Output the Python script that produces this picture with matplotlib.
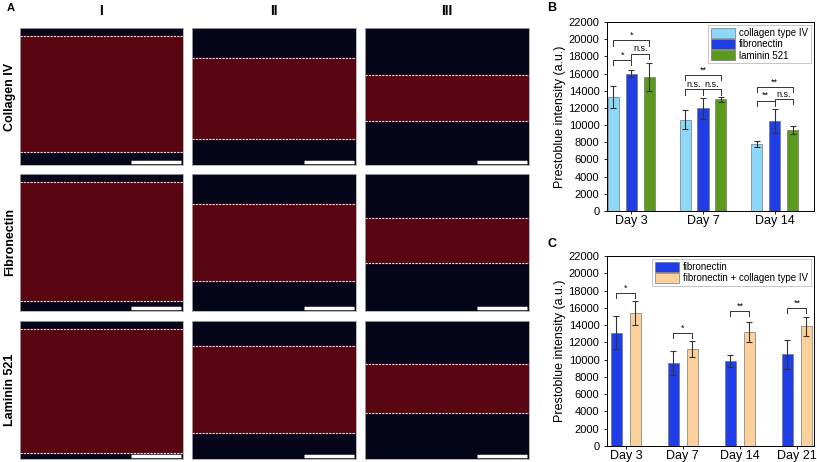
import numpy as np
import matplotlib.pyplot as plt
from matplotlib.patches import Rectangle

plt.rcParams['font.family'] = ['Liberation Sans', 'DejaVu Sans']

# panel B
days_b = ['Day 3', 'Day 7', 'Day 14']
collagen = [13300, 10600, 7800]
collagen_err = [1300, 1100, 350]
fibro_b = [16000, 11950, 10450]
fibro_b_err = [400, 1200, 1400]
laminin = [15600, 13000, 9450]
laminin_err = [1600, 300, 500]

# panel C
days_c = ['Day 3', 'Day 7', 'Day 14', 'Day 21']
fibro_c = [13100, 9600, 9850, 10600]
fibro_c_err = [1900, 1400, 700, 1700]
fibro_col = [15400, 11250, 13250, 13850]
fibro_col_err = [1400, 900, 1150, 1100]

# significance brackets: (group, bar a, bar b, height, text)
sig_b = [(0, 0, 1, 17600, '*'), (0, 1, 2, 18300, 'n.s.'), (0, 0, 2, 19850, '*'),
         (1, 0, 1, 14150, 'n.s.'), (1, 1, 2, 14150, 'n.s.'), (1, 0, 2, 15850, '**'),
         (2, 0, 1, 12850, '**'), (2, 1, 2, 13000, 'n.s.'), (2, 0, 2, 14400, '**')]
sig_c = [(0, 0, 1, 17700, '*'), (1, 0, 1, 13100, '*'),
         (2, 0, 1, 15600, '**'), (3, 0, 1, 15950, '**')]

rows = ['Collagen IV', 'Fibronectin', 'Laminin 521']
cols = ['I', 'II', 'III']
# dashed channel borders, fraction of panel height from top
channels = [[(0.056, 0.903), (0.22, 0.81), (0.34, 0.68)],
            [(0.06, 0.93), (0.22, 0.78), (0.32, 0.65)],
            [(0.06, 0.96), (0.18, 0.81), (0.31, 0.665)]]

W, H = 817, 462
fig = plt.figure(figsize=(W / 100, H / 100), dpi=100)

def px_axes(x0, y0, x1, y1):
    return fig.add_axes([x0 / W, 1 - y1 / H, (x1 - x0) / W, (y1 - y0) / H])

col_x = [(20, 183), (192, 356), (365, 529)]
row_y = [(28, 165), (174, 311), (321, 459)]
for i, (ya, yb) in enumerate(row_y):
    for j, (xa, xb) in enumerate(col_x):
        ax = px_axes(xa, ya, xb, yb)
        ax.set_facecolor('#05061a')
        ax.set_xlim(0, 1)
        ax.set_ylim(1, 0)
        top, bot = channels[i][j]
        ax.add_patch(Rectangle((0, top), 1, bot - top, color='#5a0612'))
        for yy in (top, bot):
            ax.axhline(yy, color='#dddddd', ls=(0, (2, 1)), lw=0.8)
        ax.plot([0.68, 0.985], [0.975, 0.975], color='white', lw=2.5, solid_capstyle='butt')
        ax.set_xticks([])
        ax.set_yticks([])
        for s in ax.spines.values():
            s.set_color('#aaaaaa')
            s.set_linewidth(0.6)
        if i == 0:
            ax.text(0.5, 1.07, cols[j], transform=ax.transAxes, ha='center', va='bottom',
                    fontsize=10, fontweight='bold')
        if j == 0:
            fig.text(10 / W, 1 - (ya + yb) / 2 / H, rows[i], ha='center', va='center',
                     rotation=90, fontsize=9, fontweight='bold')

fig.text(7 / W, 1 - 8 / H, 'A', fontsize=8, fontweight='bold', va='center')
fig.text(547 / W, 1 - 8 / H, 'B', fontsize=9, fontweight='bold', va='center')
fig.text(547 / W, 1 - 244 / H, 'C', fontsize=9, fontweight='bold', va='center')


def bar_panel(ax, labels, series, errs, colors, names, offsets, width, sigs, xlim):
    x = np.arange(len(labels))
    for vals, err, c, name, off in zip(series, errs, colors, names, offsets):
        ax.bar(x + off, vals, width, yerr=err, color=c, edgecolor='#777777', lw=0.5,
               label=name, error_kw=dict(ecolor='#333333', lw=0.8, capsize=2, capthick=0.8))
    for g, a, b, h, t in sigs:
        xa, xb = g + offsets[a], g + offsets[b]
        ax.plot([xa, xa, xb, xb], [h - 600, h, h, h - 600], color='#333333', lw=0.7)
        ax.text((xa + xb) / 2, h + 50, t, ha='center', va='bottom', fontsize=6.5)
    ax.set_xticks(x)
    ax.set_xticklabels(labels, fontsize=9)
    ax.set_ylim(0, 22000)
    ax.set_yticks(np.arange(0, 22001, 2000))
    ax.tick_params(axis='y', labelsize=8, length=2, width=0.6)
    ax.tick_params(axis='x', length=2, width=0.6, pad=1)
    ax.set_xlim(*xlim)
    ax.set_ylabel('Prestoblue intensity (a.u.)', fontsize=9, labelpad=2)
    for s in ax.spines.values():
        s.set_linewidth(0.7)
    leg = ax.legend(loc='upper right', fontsize=7, frameon=True, fancybox=False,
                    handlelength=2.5, handleheight=1.2, borderpad=0.3, labelspacing=0.1,
                    handletextpad=0.4, borderaxespad=0.3)
    leg.get_frame().set_edgecolor('#aaaaaa')
    leg.get_frame().set_linewidth(0.6)


axb = px_axes(607, 22, 814, 211)
bar_panel(axb, days_b, [collagen, fibro_b, laminin], [collagen_err, fibro_b_err, laminin_err],
          ['#8dd8f8', '#1f3ee8', '#5b9a1c'], ['collagen type IV', 'fibronectin', 'laminin 521'],
          [-0.25, 0, 0.25], 0.155, sig_b, (-0.34, 2.55))

axc = px_axes(607, 256, 814, 446)
bar_panel(axc, days_c, [fibro_c, fibro_col], [fibro_c_err, fibro_col_err],
          ['#1f3ee8', '#fcd09a'], ['fibronectin', 'fibronectin + collagen type IV'],
          [-0.165, 0.165], 0.2, sig_c, (-0.33, 3.3))

fig.savefig('out.png', dpi=100)
